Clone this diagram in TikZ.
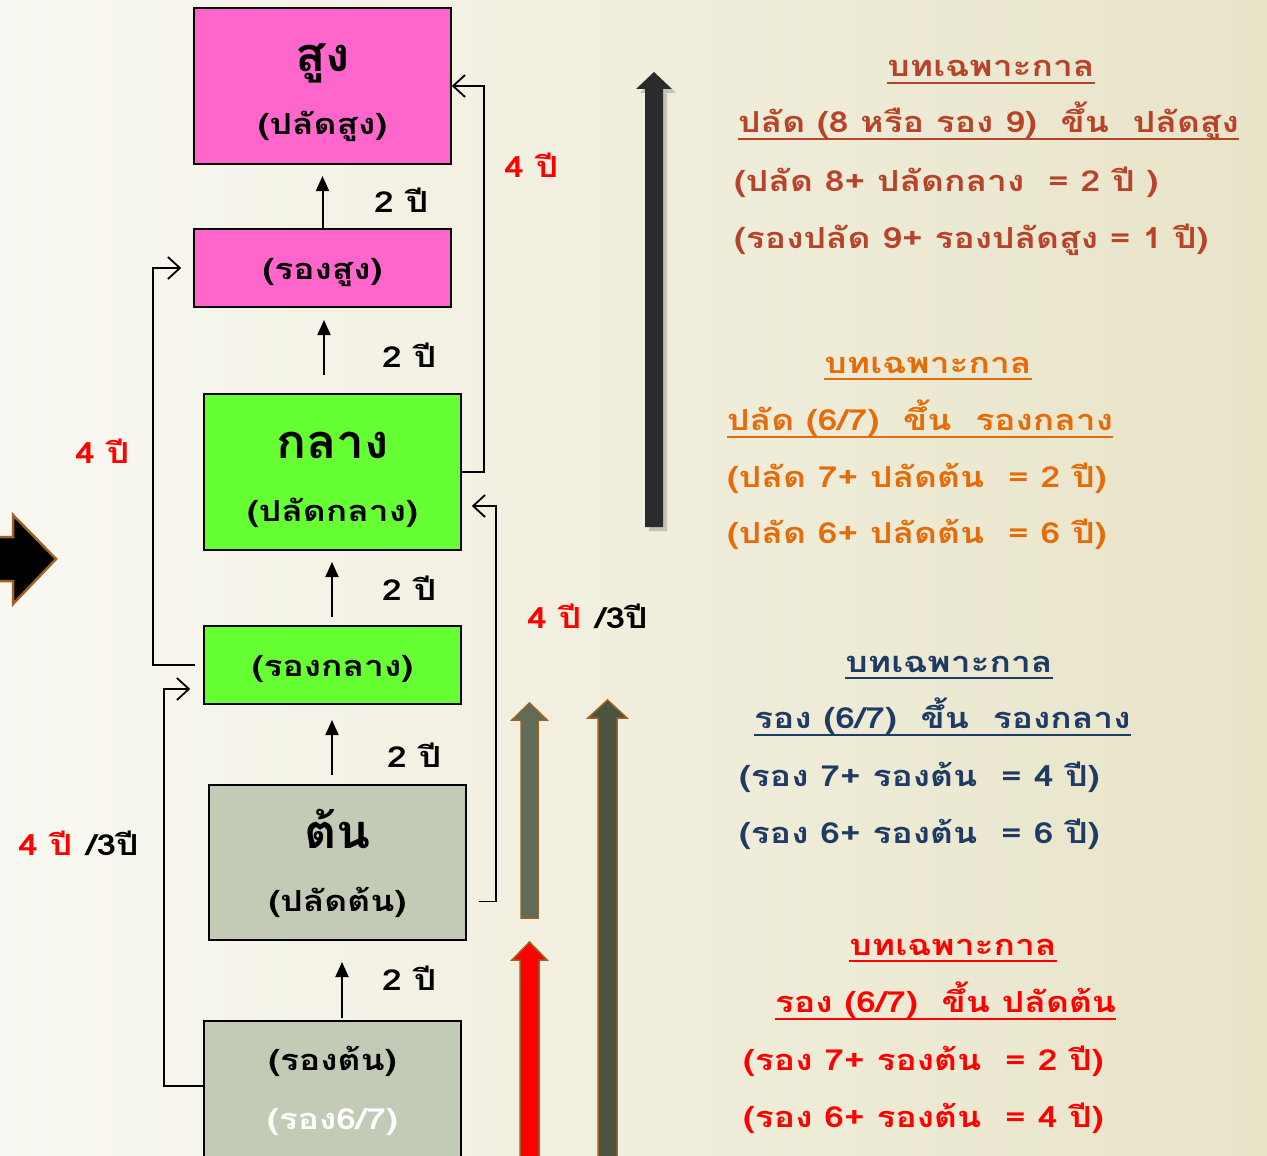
\documentclass[tikz,border=0pt]{standalone}
\usepackage{fontspec}
\newfontfamily\thaifont[Script=Thai,FakeStretch=1.06]{Loma}
\newfontfamily\thaiwide[Script=Thai,FakeStretch=1.22]{Loma}
\usetikzlibrary{arrows.meta}
\definecolor{bgL}{HTML}{F9F8F2}
\definecolor{bgM}{HTML}{F3F1E4}
\definecolor{bgR}{HTML}{E8E4C8}
\definecolor{pinkbox}{HTML}{FF66CC}
\definecolor{greenbox}{HTML}{66FF33}
\definecolor{greybox}{HTML}{C3CBB7}
\definecolor{brownT}{HTML}{B8432B}
\definecolor{orangeT}{HTML}{E46C0A}
\definecolor{navyT}{HTML}{1F3A63}
\definecolor{redT}{HTML}{FF0000}
\definecolor{arrowEdge}{HTML}{A0601E}
\definecolor{oliveA}{HTML}{606C58}
\definecolor{oliveB}{HTML}{4A543E}
\definecolor{darkbar}{HTML}{2B2B2B}
\newcommand{\fsz}[1]{\fontsize{#1}{#1}\selectfont}
\begin{document}
\begin{tikzpicture}[x=1pt,y=-1pt,
 box/.style={draw=black,line width=1.5pt,inner sep=0},
 bigtxt/.style={font=\thaifont\bfseries\fsz{47}, inner sep=0, anchor=base},
 subtxt/.style={font=\thaiwide\bfseries\fsz{29}, inner sep=0, anchor=base},
 lbl/.style={font=\thaiwide\bfseries\fsz{29}, inner sep=0, anchor=base west},
 txt/.style={font=\thaiwide\bfseries\fsz{29}, inner sep=0, anchor=base west},
 ttl/.style={font=\thaiwide\bfseries\fsz{29}, inner sep=0, anchor=base},
 uparrow/.style={-{Triangle[length=15pt,width=13pt]},line width=2pt},
 link/.style={-{Straight Barb[length=12pt,width=22pt]},line width=1.8pt},
 ulline/.style={line width=2.2pt}
]
\useasboundingbox (0,0) rectangle (1267,1156);
\clip (0,0) rectangle (1267,1156);
\fill[left color=bgL,middle color=bgM,right color=bgR] (0,0) rectangle (1267,1156);

% boxes
\node[box,fill=pinkbox,minimum width=257pt,minimum height=156pt] (sung) at (322.5,86) {};
\node[box,fill=pinkbox,minimum width=257pt,minimum height=78pt] (rsung) at (322.5,268) {};
\node[box,fill=greenbox,minimum width=257pt,minimum height=156pt] (klang) at (332.5,472) {};
\node[box,fill=greenbox,minimum width=257pt,minimum height=78pt] (rklang) at (332.5,665) {};
\node[box,fill=greybox,minimum width=257pt,minimum height=155pt] (ton) at (337.5,862.5) {};
\node[box,fill=greybox,minimum width=257pt,minimum height=156pt] (rton) at (332.5,1099) {};

% box texts
\node[bigtxt] (t1a) at (322.5,72) {สูง};
\node[subtxt] (t1b) at (322.5,134) {(ปลัดสูง)};
\node[subtxt] (t2a) at (322.5,279) {(รองสูง)};
\node[bigtxt] (t3a) at (332.5,458) {กลาง};
\node[subtxt] (t3b) at (332.5,521) {(ปลัดกลาง)};
\node[subtxt] (t4a) at (332.5,676) {(รองกลาง)};
\node[bigtxt] (t5a) at (337.5,848) {ต้น};
\node[subtxt] (t5b) at (337.5,911) {(ปลัดต้น)};
\node[subtxt] (t6a) at (332.5,1070) {(รองต้น)};
\node[subtxt,text=white] (t6b) at (332.5,1129) {(รอง6/7)};

% short up arrows
\coordinate (u1e) at (322.5,176);
\coordinate (u2s) at (324,375); \coordinate (u2e) at (324,320);
\coordinate (u3s) at (332,617); \coordinate (u3e) at (332,562);
\coordinate (u4s) at (332,775); \coordinate (u4e) at (332,720);
\coordinate (u5s) at (342,1018); \coordinate (u5e) at (342,962);
\draw[uparrow] (rsung.north) -- (u1e);
\draw[uparrow] (u2s) -- (u2e);
\draw[uparrow] (u3s) -- (u3e);
\draw[uparrow] (u4s) -- (u4e);
\draw[uparrow] (u5s) -- (u5e);
\node[lbl] (l1) at (374,212) {2 ปี};
\node[lbl] (l2) at (382,367) {2 ปี};
\node[lbl] (l3) at (382,600) {2 ปี};
\node[lbl] (l4) at (387,767) {2 ปี};
\node[lbl] (l5) at (382,990) {2 ปี};

% bypass connectors
\draw[link] (klang.east) -- ++(22,0) |- (sung.east);
\draw[link,shorten <=12pt,shorten >=10pt] ([yshift=-39pt]ton.east) -- ++(29,0) |- ([yshift=-34pt]klang.east);
\draw[link,shorten <=8pt,shorten >=12pt] (rklang.west) -- ++(-50,0) |- (rsung.west);
\draw[link,shorten >=13pt] ([yshift=13pt]rton.west) -- ++(-39,0) |- ([yshift=-24pt]rklang.west);
\node[lbl,text=redT] (r1) at (504,177) {4 ปี};
\node[lbl,text=redT] (r2) at (75,463) {4 ปี};
\node[lbl] (r3) at (527,628) {\textcolor{redT}{4 ปี}\hspace{14pt}/3ปี};
\node[lbl] (r4) at (18,855) {\textcolor{redT}{4 ปี}\hspace{14pt}/3ปี};

% big arrows
\fill[black,opacity=0.18] (649,531) -- (649,93) -- (640,93) -- (658,76) -- (676,93) -- (667,93) -- (667,531) -- cycle;
\fill[darkbar] (645,527) -- (645,89) -- (636,89) -- (654,72) -- (672,89) -- (663,89) -- (663,527) -- cycle;
\filldraw[fill=oliveA,draw=arrowEdge,line width=1.5pt] (521,918) -- (521,720) -- (512,720) -- (529.5,703) -- (547,720) -- (538,720) -- (538,918) -- cycle;
\filldraw[fill=oliveB,draw=arrowEdge,line width=1.5pt] (598,1170) -- (598,718) -- (588,718) -- (607.5,700) -- (627,718) -- (617,718) -- (617,1170) -- cycle;
\filldraw[fill=redT,draw=arrowEdge,line width=1.5pt] (520,1170) -- (520,960) -- (512,960) -- (529.5,942) -- (547,960) -- (539,960) -- (539,1170) -- cycle;
\filldraw[fill=black,draw=arrowEdge,line width=2.5pt] (-10,537) -- (13,537) -- (13,515) -- (56,559) -- (13,604) -- (13,581) -- (-10,581) -- cycle;

% right text block 1
\begin{scope}[text=brownT]
\node[ttl] (b1t) at (991,77) {บทเฉพาะกาล};
\draw[ulline,brownT] ([yshift=-6pt]b1t.base west) -- ([yshift=-6pt]b1t.base east);
\node[txt] (b1a) at (738,132) {ปลัด (8 หรือ รอง 9)\ \ ขึ้น\ \ ปลัดสูง};
\draw[ulline,brownT] ([yshift=-7pt]b1a.base west) -- ([yshift=-7pt]b1a.base east);
\node[txt] (b1b) at (734,191) {(ปลัด 8+ ปลัดกลาง\ \ = 2 ปี )};
\node[txt] (b1c) at (734,248) {(รองปลัด 9+ รองปลัดสูง = 1 ปี)};
\end{scope}
% block 2
\begin{scope}[text=orangeT]
\node[ttl] (b2t) at (928,373) {บทเฉพาะกาล};
\draw[ulline,orangeT] ([yshift=-6pt]b2t.base west) -- ([yshift=-6pt]b2t.base east);
\node[txt] (b2a) at (727,430) {ปลัด (6/7)\ \ ขึ้น\ \ รองกลาง};
\draw[ulline,orangeT] ([yshift=-7pt]b2a.base west) -- ([yshift=-7pt]b2a.base east);
\node[txt] (b2b) at (727,487) {(ปลัด 7+ ปลัดต้น\ \ = 2 ปี)};
\node[txt] (b2c) at (727,543) {(ปลัด 6+ ปลัดต้น\ \ = 6 ปี)};
\end{scope}
% block 3
\begin{scope}[text=navyT]
\node[ttl] (b3t) at (949,672) {บทเฉพาะกาล};
\draw[ulline,navyT] ([yshift=-6pt]b3t.base west) -- ([yshift=-6pt]b3t.base east);
\node[txt] (b3a) at (754,728) {รอง (6/7)\ \ ขึ้น\ \ รองกลาง};
\draw[ulline,navyT] ([yshift=-7pt]b3a.base west) -- ([yshift=-7pt]b3a.base east);
\node[txt] (b3b) at (739,786) {(รอง 7+ รองต้น\ \ = 4 ปี)};
\node[txt] (b3c) at (739,843) {(รอง 6+ รองต้น\ \ = 6 ปี)};
\end{scope}
% block 4
\begin{scope}[text=redT]
\node[ttl] (b4t) at (953,955) {บทเฉพาะกาล};
\draw[ulline,redT] ([yshift=-6pt]b4t.base west) -- ([yshift=-6pt]b4t.base east);
\node[txt] (b4a) at (775,1012) {รอง (6/7)\ \ ขึ้น ปลัดต้น};
\draw[ulline,redT] ([yshift=-7pt]b4a.base west) -- ([yshift=-7pt]b4a.base east);
\node[txt] (b4b) at (743,1070) {(รอง 7+ รองต้น\ \ = 2 ปี)};
\node[txt] (b4c) at (743,1127) {(รอง 6+ รองต้น\ \ = 4 ปี)};
\end{scope}
\end{tikzpicture}
\end{document}
